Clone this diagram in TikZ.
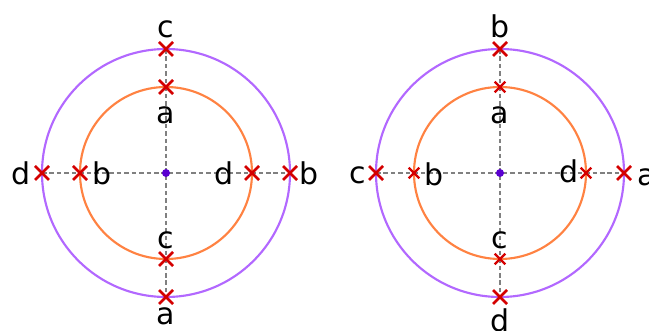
\documentclass[tikz,border=0pt]{standalone}
\usepackage{fontspec}
\setmainfont{DejaVu Sans}
\usepackage{xcolor}
\usetikzlibrary{shapes.misc,positioning}

\definecolor{ringout}{RGB}{178,104,255}
\definecolor{ringin}{RGB}{255,130,66}
\definecolor{hub}{RGB}{90,0,208}
\definecolor{markred}{RGB}{212,0,0}

\tikzset{
  ring/.style={line width=1.6pt},
  guide/.style={gray, line width=0.8pt, dash pattern=on 3.4pt off 2.2pt},
  xmark/.style={cross out, draw=markred, line width=2pt, minimum size=8.5pt, inner sep=0pt},
  xmarksmall/.style={xmark, line width=1.7pt, minimum size=6.2pt},
  lbl/.style={inner sep=0pt, font=\fontsize{22.5}{27}\selectfont},
}

\begin{document}
\begin{tikzpicture}[x=0.75pt, y=-0.75pt]
\useasboundingbox (0,0) rectangle (649,331);

% Points where the guides meet the circles
\foreach \cx/\s in {166/L, 500/R} {
  \coordinate (\s-c) at (\cx,173);
  \coordinate (\s-ot) at (\cx,49);
  \coordinate (\s-it) at (\cx,87);
  \coordinate (\s-ib) at (\cx,259);
  \coordinate (\s-ob) at (\cx,297);
  \coordinate (\s-ol) at (\cx-124,173);
  \coordinate (\s-il) at (\cx-86,173);
  \coordinate (\s-ir) at (\cx+86,173);
  \coordinate (\s-or) at (\cx+124,173);
}

% Circles and dashed guides
\foreach \s in {L,R} {
  \draw[ring, ringout] (\s-c) circle (93pt);
  \draw[ring, ringin] (\s-c) circle (64.5pt);
  \draw[guide] (\s-ol) -- (\s-or);
  \draw[guide] (\s-ot) -- (\s-ob);
  \fill[hub] (\s-c) circle (3pt);
}

% Crosses
\foreach \p in {ot,it,ol,il,ir,or,ib,ob} {
  \node[xmark] (L-\p-x) at (L-\p) {};
}
\foreach \p in {ot,ol,or,ob} {
  \node[xmark] (R-\p-x) at (R-\p) {};
}
\foreach \p in {it,il,ir,ib} {
  \node[xmarksmall] (R-\p-x) at (R-\p) {};
}

% Labels, left pair
\node[lbl, anchor=base] (L-ot-t) at (166,38) {c};
\node[lbl, anchor=base] (L-it-t) at (166,124) {a};
\node[lbl, anchor=base east] (L-ol-t) at (31,185) {d};
\node[lbl, anchor=base west] (L-il-t) at (92,185) {b};
\node[lbl, anchor=base east] (L-ir-t) at (234,185) {d};
\node[lbl, anchor=base west] (L-or-t) at (299,185) {b};
\node[lbl, anchor=base] (L-ib-t) at (166,248) {c};
\node[lbl, anchor=base] (L-ob-t) at (166,324) {a};

% Labels, right pair
\node[lbl, anchor=base] (R-ot-t) at (500,38) {b};
\node[lbl, anchor=base] (R-it-t) at (500,124) {a};
\node[lbl, anchor=base east] (R-ol-t) at (366,184) {c};
\node[lbl, anchor=base west] (R-il-t) at (424,186) {b};
\node[lbl, anchor=base east] (R-ir-t) at (579,183) {d};
\node[lbl, anchor=base west] (R-or-t) at (637,186) {a};
\node[lbl, anchor=base] (R-ib-t) at (500,248) {c};
\node[lbl, anchor=base] (R-ob-t) at (500,331) {d};
\end{tikzpicture}
\end{document}
